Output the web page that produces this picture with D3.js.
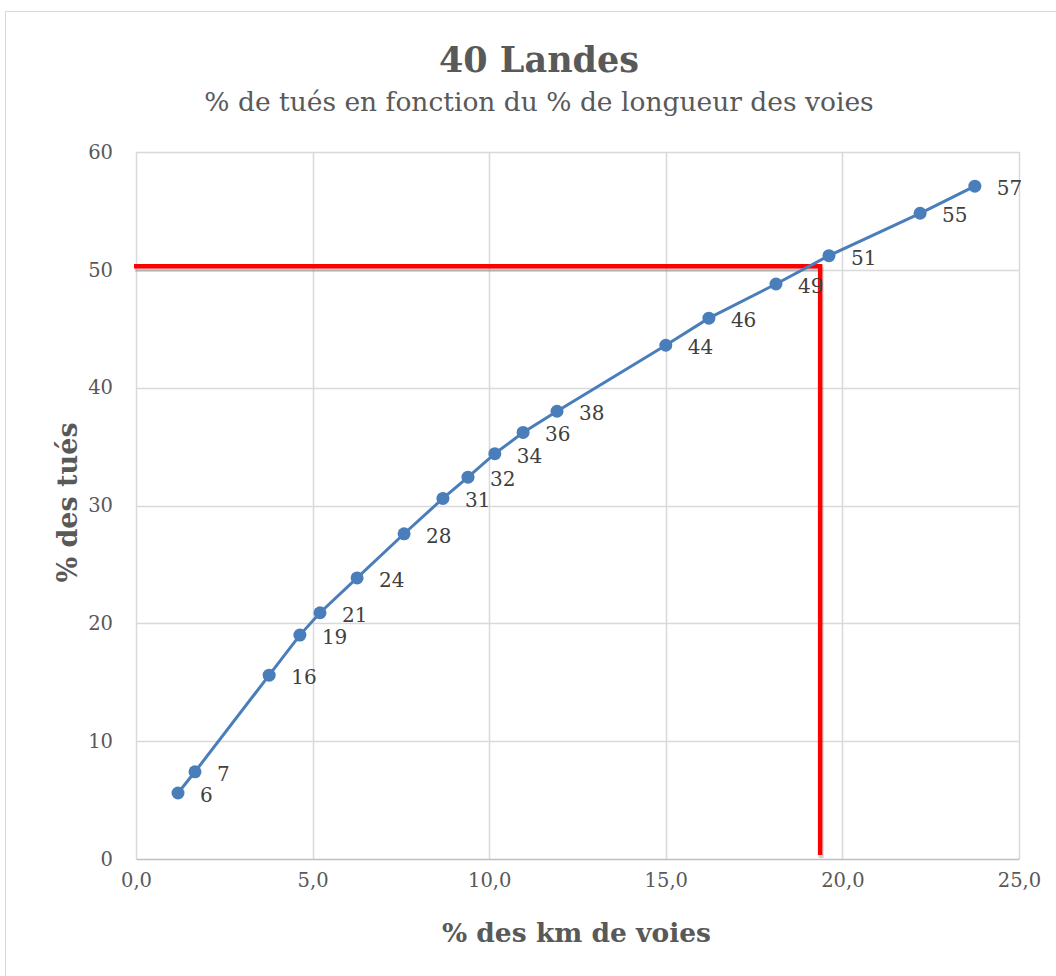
<!DOCTYPE html>
<html>
<head>
<meta charset="utf-8">
<script src="https://cdn.jsdelivr.net/npm/d3@7"></script>
<style>
  body { margin: 0; background: #fff; }
  text { font-family: "DejaVu Serif", "Liberation Serif", serif; }
</style>
</head>
<body>
<script>
    //data
    var pctKm = [1.19, 1.67, 3.77, 4.64, 5.21, 6.26, 7.59, 8.69, 9.40, 10.16,
        10.96, 11.92, 15.0, 16.22, 18.12, 19.62, 22.2, 23.75];
    var pctTues = [5.6, 7.4, 15.6, 19.0, 20.9, 23.85, 27.6, 30.6, 32.4, 34.4,
        36.2, 38.0, 43.6, 45.9, 48.8, 51.2, 54.8, 57.1];
    var labels = ["6", "7", "16", "19", "21", "24", "28", "31", "32", "34",
        "36", "38", "44", "46", "49", "51", "55", "57"];
    var xTicks = [0, 5, 10, 15, 20, 25];
    var yTicks = [0, 10, 20, 30, 40, 50, 60];
    //red marker lines
    var markX = 19.37;
    var markY = 50.3;

    var width = 1056;
    var height = 976;

    var margin = { left: 136, right: 37, top: 152, bottom: 117 };
    var innerW = width - margin.left - margin.right;
    var innerH = height - margin.top - margin.bottom;

    var xScale = d3.scaleLinear().domain([0, 25]).range([0, innerW]);
    var yScale = d3.scaleLinear().domain([0, 60]).range([innerH, 0]);

    var svg = d3.select("body").append("svg")
        .attr("width", width)
        .attr("height", height);

    //chart frame
    svg.append("rect")
        .attr("x", 5.5).attr("y", 11.5)
        .attr("width", width).attr("height", height)
        .attr("fill", "#fff")
        .attr("stroke", "#d9d9d9");

    var chartGroup = svg.append("g")
        .attr("transform", "translate(" + margin.left + "," + margin.top + ")");

    //gridlines
    chartGroup.selectAll(".hgrid").data(yTicks.slice(1)).enter().append("line")
        .attr("x1", 0).attr("x2", innerW)
        .attr("y1", function (d) { return Math.round(yScale(d)) + 0.5; })
        .attr("y2", function (d) { return Math.round(yScale(d)) + 0.5; })
        .attr("stroke", "#d9d9d9").attr("stroke-width", 1.5);
    chartGroup.selectAll(".vgrid").data(xTicks).enter().append("line")
        .attr("y1", 0).attr("y2", innerH)
        .attr("x1", function (d) { return Math.round(xScale(d)) + 0.5; })
        .attr("x2", function (d) { return Math.round(xScale(d)) + 0.5; })
        .attr("stroke", "#d9d9d9").attr("stroke-width", 1.5);

    //axes
    var xAxis = d3.axisBottom(xScale).tickValues(xTicks).tickSize(0).tickPadding(14)
        .tickFormat(function (d) { return d3.format(".1f")(d).replace(".", ","); });
    var yAxis = d3.axisLeft(yScale).tickValues(yTicks).tickSize(0).tickPadding(23);

    var gx = chartGroup.append("g").attr("transform", "translate(0," + innerH + ")").call(xAxis);
    gx.select(".domain").attr("stroke", "#bfbfbf").attr("stroke-width", 1.5);
    var gy = chartGroup.append("g").call(yAxis);
    gy.select(".domain").remove();
    chartGroup.selectAll(".tick text")
        .attr("fill", "#595959").style("font-size", "19.5px")
        .style("font-family", "'DejaVu Serif', serif");

    //red lines with soft shadow
    var redPath = "M" + (-2) + "," + yScale(markY) + "H" + xScale(markX) + "V" + (innerH - 4);
    chartGroup.append("path")
        .attr("d", redPath)
        .attr("transform", "translate(1,3)")
        .attr("fill", "none").attr("stroke", "#000").attr("stroke-opacity", 0.18)
        .attr("stroke-width", 5);
    chartGroup.append("path")
        .attr("d", redPath)
        .attr("fill", "none").attr("stroke", "#ff0000").attr("stroke-width", 4.5);

    //series
    var points = pctKm.map(function (d, i) { return { x: d, y: pctTues[i], label: labels[i] }; });
    var line = d3.line()
        .x(function (d) { return xScale(d.x); })
        .y(function (d) { return yScale(d.y); });

    chartGroup.append("path")
        .datum(points)
        .attr("d", line)
        .attr("fill", "none")
        .attr("stroke", "#4a7ebb")
        .attr("stroke-width", 3);

    chartGroup.selectAll("circle").data(points).enter().append("circle")
        .attr("cx", function (d) { return xScale(d.x); })
        .attr("cy", function (d) { return yScale(d.y); })
        .attr("r", 6.5)
        .attr("fill", "#4a7ebb");

    chartGroup.selectAll(".lbl").data(points).enter().append("text")
        .attr("x", function (d) { return xScale(d.x) + 22; })
        .attr("y", function (d) { return yScale(d.y) + 9; })
        .attr("fill", "#404040")
        .style("font-size", "20px")
        .text(function (d) { return d.label; });

    //titles
    svg.append("text")
        .attr("x", 539).attr("y", 72)
        .attr("text-anchor", "middle")
        .attr("fill", "#595959")
        .style("font-size", "35px").style("font-weight", "bold")
        .text("40 Landes");
    svg.append("text")
        .attr("x", 539).attr("y", 111)
        .attr("text-anchor", "middle")
        .attr("fill", "#595959")
        .style("font-size", "26.5px")
        .text("% de tués en fonction du % de longueur des voies");

    svg.append("text")
        .attr("x", margin.left + innerW / 2 - 1).attr("y", 942)
        .attr("text-anchor", "middle")
        .attr("fill", "#595959")
        .style("font-size", "26.5px").style("font-weight", "bold")
        .text("% des km de voies");
    svg.append("text")
        .attr("transform", "translate(77," + (margin.top + innerH / 2 - 3) + ") rotate(-90)")
        .attr("text-anchor", "middle")
        .attr("fill", "#595959")
        .style("font-size", "27px").style("font-weight", "bold")
        .text("% des tués");
</script>
</body>
</html>
